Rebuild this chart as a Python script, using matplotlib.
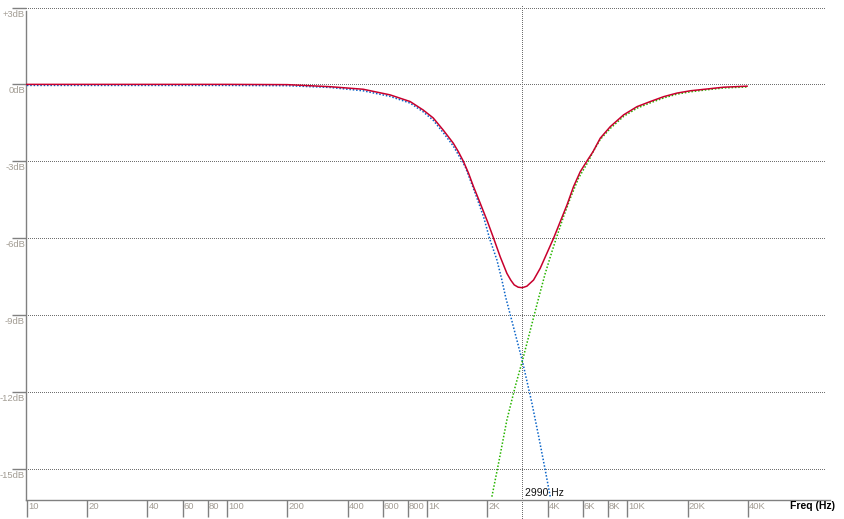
import matplotlib
matplotlib.use('Agg')
import matplotlib.pyplot as plt
from matplotlib.transforms import offset_copy

plt.rcParams['font.family'] = ['Liberation Sans', 'DejaVu Sans']

# summed response (red)
red_f = [10, 100, 200, 327, 479, 653, 822, 955, 1072, 1202, 1349, 1430, 1514, 1610, 1704, 1841,
         2000, 2146, 2317, 2503, 2620, 2723, 2850, 2990, 3150, 3401, 3673, 3968, 4281, 4624,
         4995, 5389, 5821, 6288, 6740, 7328, 8222, 9584, 11180, 13030, 15190, 17720, 20650,
         25030, 30310, 39670]
red_db = [0.0, 0.0, -0.01, -0.09, -0.19, -0.41, -0.67, -1.0, -1.31, -1.78, -2.29, -2.62, -2.99, -3.47, -3.99, -4.64,
          -5.35, -6.0, -6.73, -7.38, -7.65, -7.83, -7.92, -7.94, -7.88, -7.64, -7.18, -6.59, -6.01, -5.36,
          -4.71, -3.99, -3.41, -2.99, -2.63, -2.10, -1.65, -1.19, -0.87, -0.67, -0.48, -0.34, -0.25,
          -0.18, -0.11, -0.07]

# low side (blue)
blue_f = [10, 100, 200, 327, 479, 653, 822, 955, 1072, 1202, 1349, 1549, 1738, 1912,
          2049, 2232, 2363, 2464, 2990, 3338, 3610, 3890, 4121]
blue_db = [-0.04, -0.04, -0.05, -0.12, -0.25, -0.47, -0.73, -1.07, -1.4, -1.88, -2.4, -3.21, -4.25, -5.16,
           -6.01, -6.86, -7.64, -8.29, -10.8, -12.45, -13.76, -15.06, -16.1]

# high side (green)
green_f = [2106, 2273, 2503, 2754, 2990, 3603, 3890, 4203, 4416, 4804, 5188, 5709, 6406, 6740,
           7328, 8222, 9584, 11180, 13030, 15190, 17720, 20650, 25030, 30310, 39670]
green_db = [-16.1, -14.8, -13.1, -11.8, -10.8, -8.35, -7.38, -6.53, -6.01, -5.16, -4.45, -3.66, -2.99, -2.63,
            -2.15, -1.72, -1.25, -0.93, -0.72, -0.53, -0.38, -0.29, -0.21, -0.14, -0.1]

x_ticks = [10, 20, 40, 60, 80, 100, 200, 400, 600, 800, 1000, 2000, 4000, 6000, 8000, 10000, 20000, 40000]
x_labels = ['10', '20', '40', '60', '80', '100', '200', '400', '600', '800',
            '1K', '2K', '4K', '6K', '8K', '10K', '20K', '40K']
y_ticks = [3, 0, -3, -6, -9, -12, -15]
y_labels = ['+3dB', '0dB', '-3dB', '-6dB', '-9dB', '-12dB', '-15dB']
marker_f = 2990

axis_col = '#808080'
grid_col = '#707070'
label_col = '#a39d94'

fig = plt.figure(figsize=(8.44, 5.19), dpi=100)
ax = fig.add_axes([26 / 844, 19 / 519, 804 / 844, 495 / 519])
ax.set_xscale('log')
ax.set_xlim(9.9, 103000)
ax.set_ylim(-16.23, 3.1)

for v in y_ticks:
    ax.axhline(v, xmax=0.995, color=grid_col, lw=0.72, ls=(0, (1, 2)), antialiased=False, zorder=1)
ax.axvline(marker_f, ymin=-0.04, ymax=1, color=grid_col, lw=0.72, ls=(0, (1, 2)),
           antialiased=False, clip_on=False, zorder=1)

ax.plot(blue_f, blue_db, color='#0a64c8', lw=1.1, ls=(0, (1, 1.2)), zorder=3)
ax.plot(green_f, green_db, color='#28b400', lw=1.1, ls=(0, (1, 1.2)), zorder=3)
ax.plot(red_f, red_db, color='#c8002d', lw=1.1, zorder=4)

for s in ['top', 'right']:
    ax.spines[s].set_visible(False)
for s in ['left', 'bottom']:
    ax.spines[s].set_color(axis_col)
    ax.spines[s].set_linewidth(1.0)
ax.spines['left'].set_bounds(-16.23, 2.85)

ax.set_xticks(x_ticks)
ax.set_xticklabels([])
ax.xaxis.set_minor_locator(matplotlib.ticker.NullLocator())
ax.tick_params(axis='x', direction='out', length=12, width=1.0, color=axis_col)
ax.set_yticks(y_ticks)
ax.set_yticklabels([])
ax.tick_params(axis='y', direction='out', length=10, width=1.0, color=axis_col)

xt = offset_copy(ax.get_xaxis_transform(), fig=fig, x=1, y=-2, units='dots')
for f, lab in zip(x_ticks, x_labels):
    ax.text(f, 0, lab, transform=xt, ha='left', va='top', fontsize=6.8, color=label_col)

yt = offset_copy(ax.get_yaxis_transform(), fig=fig, x=-1, y=-2, units='dots')
for v, lab in zip(y_ticks, y_labels):
    ax.text(0, v, lab, transform=yt, ha='right', va='top', fontsize=6.8, color=label_col)

mt = offset_copy(ax.get_xaxis_transform(), fig=fig, x=3, y=2, units='dots')
ax.text(marker_f, 0, '2990 Hz', transform=mt, ha='left', va='bottom', fontsize=7.5, color='#111111')

fig.text(835 / 844, 1 - 506 / 519, 'Freq (Hz)', ha='right', va='center', fontsize=7.5,
         fontweight='bold', color='black')

fig.savefig('out.png', dpi=100)
